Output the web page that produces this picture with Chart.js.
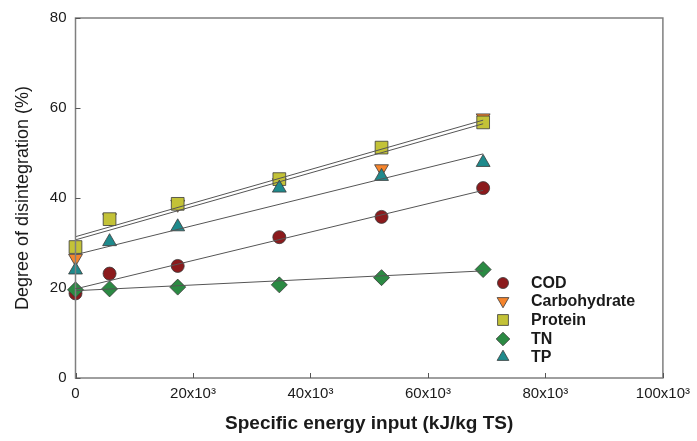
<!DOCTYPE html>
<html>
<head>
<meta charset="utf-8">
<script src="https://cdn.jsdelivr.net/npm/chart.js@4/dist/chart.umd.min.js"></script>
<style>
  body { margin: 0; background: #fff; }
  #wrap { width: 697px; height: 441px; }
</style>
</head>
<body>
<div id="wrap"><canvas id="chart" width="697" height="441"></canvas></div>
<script>
// ==========================================
// DATA
// ==========================================
const energyInput = [0, 5800, 17400, 34700, 52100, 69400];

const codValues     = [18.8, 23.2, 24.9, 31.3, 35.8, 42.2];
const carbValues    = [26.6, 35.6, 38.6, 43.4, 46.5, 57.8];
const proteinValues = [29.1, 35.3, 38.7, 44.2, 51.2, 56.8];
const tnValues      = [19.6, 19.8, 20.2, 20.7, 22.3, 24.1];
const tpValues      = [24.0, 30.3, 33.6, 42.2, 44.8, 47.9];

// fitted lines: value at start and end of the range
const fitX       = [0, 69400];
const fitProtein = [31.4, 57.3];
const fitCarb    = [30.7, 56.5];
const fitTp      = [27.4, 49.8];
const fitCod     = [19.8, 41.7];
const fitTn      = [19.4, 23.8];

const xTicks = [0, 20000, 40000, 60000, 80000, 100000];
const yTicks = [0, 20, 40, 60, 80];

const seriesNames = ['COD', 'Carbohydrate', 'Protein', 'TN', 'TP'];

// ==========================================
// HELPERS
// ==========================================
const toPoints = (xs, ys) => xs.map((x, i) => ({ x: x, y: ys[i] }));

function markerSet(label, values, style, color, radius, rotation, order) {
    return {
        label: label,
        data: toPoints(energyInput, values),
        pointStyle: style,
        pointRadius: radius,
        pointRotation: rotation,
        pointBackgroundColor: color,
        pointBorderColor: '#3a3a3a',
        pointBorderWidth: 0.8,
        showLine: false,
        clip: false,
        order: order
    };
}

function fitLine(values) {
    return {
        label: '',
        data: toPoints(fitX, values),
        showLine: true,
        borderColor: '#555555',
        borderWidth: 1,
        pointRadius: 0,
        fill: false,
        clip: false,
        order: 0,
        isFit: true
    };
}

// frame, inward ticks and legend
const framePlugin = {
    id: 'frame',
    afterDraw(chart) {
        const ctx = chart.ctx;
        const a = chart.chartArea;
        const xs = chart.scales.x, ys = chart.scales.y;
        ctx.save();
        ctx.strokeStyle = '#7f7f7f';
        ctx.lineWidth = 1.5;
        ctx.strokeRect(a.left, a.top, a.right - a.left, a.bottom - a.top);

        ctx.lineWidth = 1;
        ctx.strokeStyle = '#555';
        ctx.beginPath();
        xTicks.forEach(v => {
            const px = Math.round(xs.getPixelForValue(v)) + 0.5;
            ctx.moveTo(px, a.bottom);
            ctx.lineTo(px, a.bottom - 5);
        });
        yTicks.forEach(v => {
            const py = Math.round(ys.getPixelForValue(v)) + 0.5;
            ctx.moveTo(a.left, py);
            ctx.lineTo(a.left + 5, py);
        });
        ctx.stroke();

        // legend
        const rowY = [283, 301, 320, 339, 357];
        ctx.font = 'bold 16px "Liberation Sans", Arial, sans-serif';
        ctx.textBaseline = 'middle';
        ctx.textAlign = 'left';
        const markers = chart.data.datasets.filter(d => !d.isFit);
        seriesNames.forEach((name, i) => {
            const ds = markers.find(d => d.label === name);
            ctx.fillStyle = ds.pointBackgroundColor;
            ctx.strokeStyle = '#3a3a3a';
            ctx.lineWidth = 0.8;
            Chart.helpers.drawPoint(ctx, {
                pointStyle: ds.pointStyle,
                radius: ds.pointRadius * 0.85,
                rotation: ds.pointRotation,
                borderWidth: 0.8
            }, 503, rowY[i]);
            ctx.fillStyle = '#1a1a1a';
            ctx.fillText(name, 531, rowY[i] + 1);
        });
        ctx.restore();
    }
};

// ==========================================
// CHART
// ==========================================
const ctx = document.getElementById('chart').getContext('2d');
new Chart(ctx, {
    type: 'scatter',
    data: {
        datasets: [
            markerSet('COD', codValues, 'circle', '#8b1a1c', 6.5, 0, 5),
            markerSet('Carbohydrate', carbValues, 'triangle', '#f5842c', 8, 180, 4),
            markerSet('Protein', proteinValues, 'rect', '#c3c237', 9, 0, 3),
            markerSet('TN', tnValues, 'rectRot', '#2b8a43', 8, 0, 2),
            markerSet('TP', tpValues, 'triangle', '#1f8a8c', 8, 0, 1),
            fitLine(fitProtein),
            fitLine(fitCarb),
            fitLine(fitTp),
            fitLine(fitCod),
            fitLine(fitTn)
        ]
    },
    options: {
        responsive: false,
        devicePixelRatio: 1,
        animation: false,
        layout: { padding: { left: 0, right: 31, top: 15, bottom: 0 } },
        plugins: {
            legend: { display: false },
            tooltip: { enabled: false }
        },
        scales: {
            x: {
                type: 'linear',
                min: 0,
                max: 100000,
                afterFit: s => { s.height = 63; },
                afterBuildTicks: s => { s.ticks = xTicks.map(v => ({ value: v })); },
                grid: { display: false, drawTicks: false },
                border: { display: false },
                ticks: {
                    padding: 7,
                    color: '#1a1a1a',
                    font: { family: '"Liberation Sans", Arial, sans-serif', size: 15 },
                    callback: v => v === 0 ? '0' : (v / 1000) + 'x10\u00B3'
                },
                title: {
                    display: true,
                    text: 'Specific energy input (kJ/kg TS)',
                    color: '#1a1a1a',
                    font: { family: '"Liberation Sans", Arial, sans-serif', size: 19, weight: 'bold' },
                    padding: { top: 0, bottom: 6 }
                }
            },
            y: {
                min: 0,
                max: 80,
                afterFit: s => { s.width = 75.5; },
                afterBuildTicks: s => { s.ticks = yTicks.map(v => ({ value: v })); },
                grid: { display: false, drawTicks: false },
                border: { display: false },
                ticks: {
                    padding: 9,
                    color: '#1a1a1a',
                    font: { family: '"Liberation Sans", Arial, sans-serif', size: 15 }
                },
                title: {
                    display: true,
                    text: 'Degree of disintegration (%)',
                    color: '#1a1a1a',
                    font: { family: '"Liberation Sans", Arial, sans-serif', size: 18 },
                    padding: { top: 12, bottom: 0 }
                }
            }
        }
    },
    plugins: [framePlugin]
});
</script>
</body>
</html>
